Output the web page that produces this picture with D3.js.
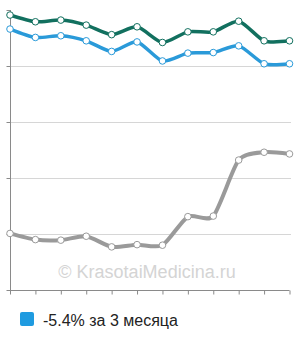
<!DOCTYPE html>
<html><head><meta charset="utf-8">
<script src="https://cdn.jsdelivr.net/npm/d3@7"></script>
<style>body{margin:0;background:#fff}svg{display:block}</style>
</head><body>
<svg id="c" width="300" height="340"></svg>
<script>
const months = ["1","2","3","4","5","6","7","8","9","10","11","12"];
const seriesGreen = [4.91,4.79,4.82,4.73,4.56,4.70,4.42,4.61,4.61,4.80,4.45,4.45];
const seriesBlue  = [4.66,4.51,4.54,4.45,4.26,4.43,4.09,4.23,4.24,4.36,4.04,4.04];
const seriesGray  = [1.01,0.90,0.89,0.96,0.77,0.81,0.80,1.31,1.32,2.32,2.46,2.43];
const yTicks = [0,1,2,3,4,5];
const legendLabel = "-5.4% за 3 месяца";
const watermark = "© KrasotaiMedicina.ru";

const svg = d3.select("#c");
const x = d3.scalePoint().domain(months).range([10, 289.5]);
const y = d3.scaleLinear().domain([0,5]).range([290,10]);

// gridlines
svg.append("g").selectAll("line").data(yTicks.filter(d=>d>0&&d<5)).join("line")
  .attr("x1",10).attr("x2",291).attr("y1",d=>y(d)).attr("y2",d=>y(d))
  .attr("stroke","#d6d6d6").attr("stroke-width",1).attr("shape-rendering","crispEdges");

// watermark
svg.append("text").attr("x",147).attr("y",278).attr("text-anchor","middle")
  .attr("font-family","Liberation Sans, Arial, sans-serif").attr("font-size",18)
  .attr("fill","#d4d4d4").text(watermark);

// axes
const yAxis = d3.axisLeft(y).tickValues(yTicks).tickSize(4).tickFormat("");
const gy = svg.append("g").attr("transform","translate(10.5,0)").call(yAxis);
const xAxis = d3.axisBottom(x).tickSize(4).tickFormat("");
const gx = svg.append("g").attr("transform","translate(0,290.5)").call(xAxis);
[gx,gy].forEach(g=>{g.select(".domain").attr("stroke","#8a8a8a");g.selectAll(".tick line").attr("stroke","#8a8a8a");});
gx.select(".domain").attr("d","M10,0H289.5");
gy.select(".domain").attr("d","M0,10V290");

const line = d3.line().x((d,i)=>x(months[i])).y(d=>y(d)).curve(d3.curveCardinal.tension(0.3));
const series = [
  {vals: seriesGray, color:"#9a9a9a", w:4},
  {vals: seriesBlue, color:"#2a9ad9", w:3.5},
  {vals: seriesGreen, color:"#12705f", w:3.5}
];
series.forEach(s=>{
  svg.append("path").attr("d",line(s.vals)).attr("fill","none")
    .attr("stroke",s.color).attr("stroke-width",s.w).attr("stroke-linejoin","round");
  svg.append("g").selectAll("circle").data(s.vals).join("circle")
    .attr("cx",(d,i)=>x(months[i])).attr("cy",d=>y(d)).attr("r",3.3)
    .attr("fill","#fff").attr("stroke",s.color).attr("stroke-width",1);
});

// legend
svg.append("rect").attr("x",20).attr("y",312).attr("width",14).attr("height",14).attr("rx",2)
  .attr("fill","#1f9be0");
svg.append("text").attr("x",43).attr("y",326).attr("font-family","Liberation Sans, Arial, sans-serif")
  .attr("font-size",16).attr("fill","#222").text(legendLabel);
</script>
</body></html>
